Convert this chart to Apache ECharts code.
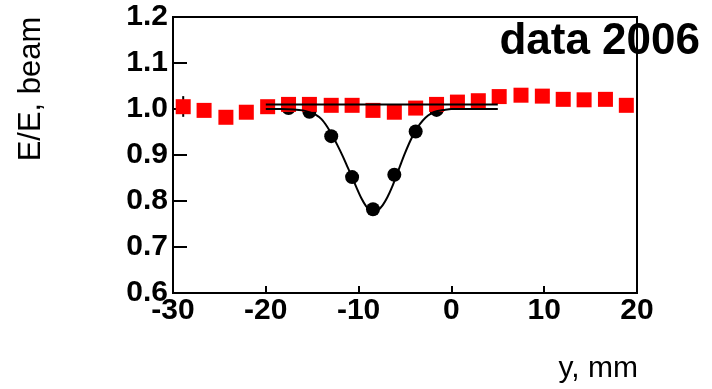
<!DOCTYPE html>
<html>
<head>
<meta charset="utf-8">
<script src="https://cdn.jsdelivr.net/npm/echarts@6/dist/echarts.min.js"></script>
<style>
  html, body { margin: 0; padding: 0; background: #fff; }
  #chart { width: 712px; height: 389px; }
</style>
</head>
<body>
<div id="chart"></div>
<script>
// Beam position scan, y in mm
const scanY = [-28.9, -26.65, -24.3, -22.1, -19.8, -17.55, -15.3, -12.95, -10.7, -8.45, -6.15,
               -3.85, -1.6, 0.65, 2.9, 5.15, 7.5, 9.8, 12.05, 14.3, 16.6, 18.85];
// Relative energy response, red squares
const respRed = [1.005, 0.997, 0.982, 0.993, 1.005, 1.010, 1.010, 1.008, 1.008, 0.997, 0.993,
                 1.002, 1.010, 1.015, 1.018, 1.027, 1.030, 1.028, 1.021, 1.020, 1.021, 1.008];
// Error bar on the first red point
const errIndex = [0];
const errLow = [0.983];
const errHigh = [1.028];

// Black circles across the dip
const dipY = [-17.55, -15.3, -12.95, -10.7, -8.45, -6.15, -3.85, -1.6];
const respBlack = [1.002, 0.994, 0.941, 0.852, 0.782, 0.857, 0.951, 0.998];

// Fitted curve through the dip
const fitY = [-20, -18.5, -17, -16, -15.3, -14.6, -14, -13.4, -12.9, -12.3, -11.7, -11.2, -10.7,
              -10.2, -9.7, -9.2, -8.7, -8.3, -7.9, -7.4, -6.9, -6.4, -6.0, -5.5, -5.0, -4.4,
              -3.9, -3.4, -2.8, -2.2, -1.6, -0.8, 0, 1.5, 3, 5];
const fitResp = [1.000, 1.000, 0.999, 0.997, 0.993, 0.987, 0.978, 0.962, 0.945, 0.922, 0.897,
                 0.874, 0.852, 0.828, 0.806, 0.789, 0.779, 0.777, 0.780, 0.791, 0.808, 0.830,
                 0.851, 0.878, 0.904, 0.932, 0.951, 0.967, 0.981, 0.990, 0.995, 0.998, 1.000,
                 1.000, 1.000, 1.000];

// Flat fit level
const flatY = [-20, 5];
const flatResp = [1.010, 1.010];

const xTicks = { min: -30, max: 20, step: 10 };
const yTicks = { min: 0.6, max: 1.2, step: 0.1 };

const zip = (a, b) => a.map((v, i) => [v, b[i]]);
const FONT = 'Liberation Sans, Arial, sans-serif';

const chart = echarts.init(document.getElementById('chart'), null, { renderer: 'canvas' });

chart.setOption({
  animation: false,
  backgroundColor: '#fff',
  grid: {
    left: 173, right: 75, top: 17, bottom: 96,
    show: true, borderColor: '#000', borderWidth: 2, backgroundColor: 'transparent'
  },
  title: {
    text: 'data 2006',
    right: 7, top: 15,
    textStyle: { fontFamily: FONT, fontWeight: 'bold', fontSize: 44, color: '#000' }
  },
  graphic: [
    {
      type: 'text', x: 638, y: 369, z: 10,
      style: {
        text: 'y, mm', fontFamily: FONT, fontSize: 30, fill: '#000',
        align: 'right', verticalAlign: 'middle'
      }
    },
    {
      type: 'text', x: 31, y: 89, rotation: Math.PI / 2, z: 10,
      style: {
        text: 'E/E, beam', fontFamily: FONT, fontSize: 31, fill: '#000',
        align: 'center', verticalAlign: 'middle'
      }
    }
  ],
  xAxis: {
    type: 'value', min: xTicks.min, max: xTicks.max, interval: xTicks.step,
    axisLine: { onZero: false, lineStyle: { color: '#000', width: 2 } },
    axisTick: { inside: true, length: 7, lineStyle: { color: '#000', width: 2 } },
    splitLine: { show: false },
    axisLabel: {
      margin: 3, color: '#000', fontFamily: FONT, fontWeight: 'bold', fontSize: 30,
      showMinLabel: true, showMaxLabel: true
    }
  },
  yAxis: {
    type: 'value', min: yTicks.min, max: yTicks.max, interval: yTicks.step,
    axisLine: { show: true, onZero: false, lineStyle: { color: '#000', width: 2 } },
    axisTick: { show: true, inside: true, length: 14, lineStyle: { color: '#000', width: 2 } },
    splitLine: { show: false },
    axisLabel: {
      margin: 5, color: '#000', fontFamily: FONT, fontWeight: 'bold', fontSize: 30,
      formatter: v => v.toFixed(1), showMinLabel: true, showMaxLabel: true
    }
  },
  series: [
    {
      type: 'scatter', name: 'dip', z: 2,
      symbol: 'circle', symbolSize: 14,
      itemStyle: { color: '#000', opacity: 1 },
      emphasis: { disabled: true },
      data: zip(dipY, respBlack)
    },
    {
      type: 'custom', name: 'errors', z: 3,
      renderItem: (params, api) => {
        const lo = api.coord([api.value(0), api.value(1)]);
        const hi = api.coord([api.value(0), api.value(2)]);
        return {
          type: 'line',
          shape: { x1: lo[0], y1: lo[1], x2: hi[0], y2: hi[1] },
          style: { stroke: '#000', lineWidth: 2 }
        };
      },
      data: errIndex.map((k, i) => [scanY[k], errLow[i], errHigh[i]])
    },
    {
      type: 'scatter', name: 'scan', z: 4,
      symbol: 'rect', symbolSize: 15,
      itemStyle: { color: '#ff0000', opacity: 1 },
      emphasis: { disabled: true },
      data: zip(scanY, respRed)
    },
    {
      type: 'line', name: 'fit', z: 5,
      smooth: 0.3, showSymbol: false, symbol: 'none',
      lineStyle: { color: '#000', width: 2 },
      data: zip(fitY, fitResp)
    },
    {
      type: 'line', name: 'flat', z: 5,
      showSymbol: false, symbol: 'none',
      lineStyle: { color: '#000', width: 2 },
      data: zip(flatY, flatResp)
    }
  ]
});
</script>
</body>
</html>
